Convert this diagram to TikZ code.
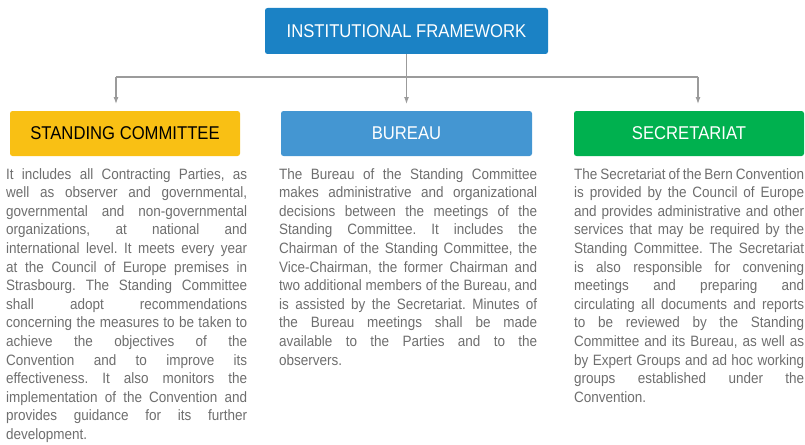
\documentclass[tikz,border=0pt]{standalone}
\usepackage{fontspec}
\setmainfont{Liberation Sans}[FakeStretch=0.9]
\usetikzlibrary{positioning, arrows.meta}
\definecolor{frameblue}{HTML}{1B82C5}
\definecolor{commyellow}{HTML}{F9C014}
\definecolor{bureaublue}{HTML}{4496D2}
\definecolor{secrgreen}{HTML}{00B14F}
\definecolor{textgray}{HTML}{6E6E6E}
\definecolor{linkgray}{HTML}{9B9B9B}
\frenchspacing

\begin{document}
\begin{tikzpicture}[x=1pt, y=-1pt,
		head/.style={rounded corners=2.5pt, minimum height=46pt, inner sep=0pt, text=white, font=\fontsize{18.5}{20}\selectfont},
		body/.style={anchor=north west, inner sep=0pt, align=justify, text=textgray, font={\fontsize{15}{18.6}\selectfont\tolerance=10000\relax}},
		link/.style={draw=linkgray, line width=1.1pt},
		linkarrow/.style={link, -{Latex[length=7pt,width=5pt]}}]
		\useasboundingbox (0,0) rectangle (805,444);
		
		\node[head, fill=frameblue, minimum width=283pt] (frame) at (406.5,31) {INSTITUTIONAL FRAMEWORK};
		
		\node[head, fill=commyellow, text=black, minimum width=230pt, minimum height=45pt] (comm) at (125,133.5) {STANDING COMMITTEE};
		\node[head, fill=bureaublue, minimum width=251pt, minimum height=45pt] (bureau) at (406.5,133.5) {BUREAU};
		\node[head, fill=secrgreen, minimum width=230pt, minimum height=45pt] (secr) at (689,133.5) {SECRETARIAT};
		
		\coordinate (fork) at (406.5,77);
		\coordinate (forkL) at (116,77);
		\coordinate (forkR) at (698,77);
		\coordinate (tipL) at (116,104);
		\coordinate (tipM) at (406.5,104);
		\coordinate (tipR) at (698,104);
		
		\draw[link] (frame.south) -- (fork);
		\draw[link] (forkL) -- (forkR);
		\draw[linkarrow] (forkL) -- (tipL);
		\draw[linkarrow] (fork) -- (tipM);
		\draw[linkarrow] (forkR) -- (tipR);
		
		\node[body, text width=241pt] (commtext) at (6,168) {It includes all Contracting Parties, as\linebreak
			well as observer and governmental,\linebreak
			governmental and non-governmental\linebreak
			organizations, at national and\linebreak
			international level. It meets every year\linebreak
			at the Council of Europe premises in\linebreak
			Strasbourg. The Standing Committee\linebreak
			shall adopt recommendations\linebreak
			concerning the measures to be taken to\linebreak
			achieve the objectives of the\linebreak
			Convention and to improve its\linebreak
			effectiveness. It also monitors the\linebreak
			implementation of the Convention and\linebreak
			provides guidance for its further\linebreak
			development.};
		
		\node[body, text width=258pt] (bureautext) at (279,168) {The Bureau of the Standing Committee\linebreak
			makes administrative and organizational\linebreak
			decisions between the meetings of the\linebreak
			Standing Committee. It includes the\linebreak
			Chairman of the Standing Committee, the\linebreak
			Vice-Chairman, the former Chairman and\linebreak
			two additional members of the Bureau, and\linebreak
			is assisted by the Secretariat. Minutes of\linebreak
			the Bureau meetings shall be made\linebreak
			available to the Parties and to the\linebreak
			observers.};
		
		\node[body, text width=230pt] (secrtext) at (574,168) {The Secretariat of the Bern Convention\linebreak
			is provided by the Council of Europe\linebreak
			and provides administrative and other\linebreak
			services that may be required by the\linebreak
			Standing Committee. The Secretariat\linebreak
			is also responsible for convening\linebreak
			meetings and preparing and\linebreak
			circulating all documents and reports\linebreak
			to be reviewed by the Standing\linebreak
			Committee and its Bureau, as well as\linebreak
			by Expert Groups and ad hoc working\linebreak
			groups established under the\linebreak
			Convention.};
		
	\end{tikzpicture}
\end{document}
